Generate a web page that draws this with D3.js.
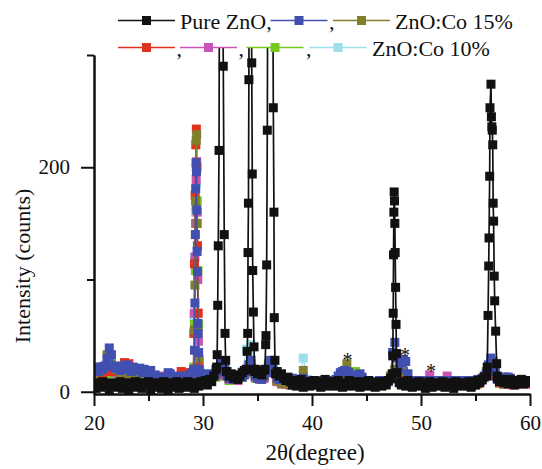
<!DOCTYPE html>
<html>
<head>
<meta charset="utf-8">
<script src="https://cdn.jsdelivr.net/npm/d3@7"></script>
<style>
  body { margin: 0; background: #fff; }
  svg { display: block; }
  svg text { font-family: "Liberation Serif", "Times New Roman", serif; }
</style>
</head>
<body>
<svg id="chart" width="542" height="469"></svg>
<script>
// ---- scan grid -------------------------------------------------------------
const scanStart = 20;       // 2θ of the first survey point
const fineStep = 0.2;       // survey step of the Pure ZnO and first Co scans
const coarseStep = 0.4;     // survey step of the remaining Co scans

// ---- Pure ZnO: survey counts (null = covered by the fine peak scans) -------
const pureZnO = [
  6,3,8,5,9,4,7,2,8,5,
  7,4,9,3,6,8,2,7,5,9,
  4,8,3,7,6,9,2,5,8,4,
  7,3,9,5,2,8,6,4,9,3,
  6,8,4,9,5,7,3,8,5,9,
  7,10,6,11,9,14,20,null,null,null,
  null,18,14,16,12,15,11,14,17,19,
  null,null,null,null,20,16,18,15,19,null,
  null,null,null,null,18,14,16,12,10,13,
  9,6,10,5,8,11,4,7,9,5,
  8,10,6,9,4,7,11,5,8,6,
  9,5,10,7,4,8,6,10,5,9,
  6,8,4,9,7,5,10,6,8,4,
  7,9,5,8,6,10,12,null,null,null,
  8,6,9,5,10,7,4,8,6,9,
  5,8,3,7,9,4,6,8,5,7,
  9,4,7,6,8,3,9,5,7,6,
  8,5,9,4,7,6,10,8,11,13,
  null,null,null,null,null,12,9,11,8,10,
  7,11,9,6,10,8,11,7,9,10,
  8
];
// fine scans across the ZnO reflections [2θ, counts]
const pureZnOPeak100 = [[31.26,22],[31.30,33],[31.35,77],[31.40,130],[31.47,215],[31.52,420],[31.60,640],[31.68,700],[31.75,560],[31.81,380],[31.86,290],[31.95,140],[32.02,52],[32.08,28],[32.14,18]];
const pureZnOPeak002 = [[33.98,20],[34.05,36],[34.10,52],[34.13,124],[34.17,168],[34.21,278],[34.26,520],[34.32,760],[34.38,600],[34.43,380],[34.47,293],[34.52,194],[34.56,108],[34.62,71],[34.68,40],[34.74,18]];
const pureZnOPeak101 = [[35.68,20],[35.75,42],[35.78,50],[35.84,113],[35.90,233],[35.96,450],[36.05,800],[36.15,900],[36.25,750],[36.35,500],[36.42,330],[36.45,253],[36.51,160],[36.54,66],[36.60,28],[36.66,16]];
const pureZnOPeak102 = [[47.36,16],[47.41,32],[47.45,70],[47.48,122],[47.51,160],[47.54,178],[47.57,170],[47.60,150],[47.63,124],[47.67,93],[47.71,60],[47.75,34],[47.80,17]];
const pureZnOPeak110 = [[56.04,14],[56.08,22],[56.15,68],[56.21,112],[56.24,137],[56.30,192],[56.33,253],[56.42,274],[56.46,245],[56.50,236],[56.54,233],[56.58,220],[56.62,168],[56.66,152],[56.72,103],[56.76,81],[56.85,54],[56.94,25],[56.99,14]];

// ---- Co doped scans --------------------------------------------------------
const coBlue = [
  19,21,18,22,20,23,30,39,33,22,
  21,23,19,22,20,24,21,18,22,20,
  19,21,17,20,18,16,19,14,15,13,
  11,13,10,12,17,16,11,13,12,14,
  13,11,14,12,15,17,null,null,null,16,
  15,14,16,13,15,14,16,18,24,27,
  20,14,12,13,11,13,12,14,13,15,
  18,24,28,20,14,12,13,11,14,17,
  22,28,25,17,12,11,12,11,12,12,
  11,12,9,8,10,11,12,9,8,10,
  9,8,10,9,8,10,9,8,10,9,
  10,11,14,17,18,19,18,17,13,10,
  12,15,16,13,9,8,10,9,8,9,
  8,10,9,8,10,9,12,35,44,30,
  20,26,29,27,16,10,9,8,10,9,
  8,10,9,8,9,10,9,8,9,10,
  10,8,9,8,10,9,8,10,9,8,
  9,10,9,8,10,9,11,10,11,14,
  16,24,30,27,18,11,10,12,13,13,
  13,12,9,10,9,10,11,10,10,10,
  10
];
const coBluePeak = [[29.16,20],[29.22,37],[29.26,79],[29.30,140],[29.33,181],[29.36,204],[29.40,196],[29.43,162],[29.46,125],[29.49,107],[29.52,61],[29.56,52],[29.60,35],[29.66,20]];

const co15 = [
  14,18,22,33,25,20,17,19,15,16,
  14,12,15,11,10,13,9,12,10,11,
  12,10,13,null,null,12,11,13,15,20,
  18,13,12,14,13,19,25,15,12,14,
  20,18,10,8,7,9,6,8,19,9,
  7,9,6,8,7,10,9,18,25,12,
  9,7,8,6,9,7,8,10,14,20,
  22,18,9,7,6,8,7,9,6,8,
  7,9,6,8,7,9,8,6,9,12,
  18,22,17,9,7,10,8,9,7,8,
  8
];
const co15Peak = [[29.12,18],[29.20,55],[29.26,95],[29.32,170],[29.38,224],[29.42,229],[29.47,150],[29.53,55],[29.60,30],[29.70,13]];

const coRed = [
  12,15,17,20,18,19,22,26,25,18,
  16,14,12,13,10,11,12,9,11,10,
  18,17,14,null,null,13,12,14,16,21,
  17,12,11,13,15,19,22,14,12,13,
  18,20,10,8,7,9,6,8,10,7,
  8,6,9,7,8,10,7,9,16,10,
  8,7,9,6,7,8,9,7,12,17,
  19,16,8,7,9,6,8,7,9,6,
  8,7,9,6,8,7,9,8,7,11,
  16,20,15,8,7,9,7,8,9,7,
  8
];
const coRedPeak = [[29.10,16],[29.16,52],[29.22,114],[29.28,175],[29.34,220],[29.39,234],[29.44,200],[29.50,130],[29.56,70],[29.64,28],[29.72,14]];

const coMagenta = [
  16,22,18,24,20,17,19,15,18,14,
  13,15,11,12,10,14,11,9,12,10,
  11,13,12,null,null,12,10,13,14,18,
  15,11,12,10,14,18,21,13,11,12,
  17,19,9,7,8,6,9,7,8,7,
  9,7,8,6,9,7,8,10,9,7,
  8,6,7,9,7,8,6,9,12,16,
  17,13,7,8,6,9,8,15,7,8,
  7,14,7,6,8,7,9,6,8,10,
  15,18,14,8,7,9,6,8,7,9,
  7
];
const coMagentaPeak = [[29.14,20],[29.20,70],[29.26,120],[29.32,150],[29.37,189],[29.42,205],[29.47,160],[29.52,100],[29.58,45],[29.66,18]];

const coGreen = [
  14,17,15,19,16,18,15,17,14,16,
  12,14,10,13,11,9,12,10,11,9,
  10,12,11,null,null,11,10,12,13,16,
  14,10,11,12,13,16,18,12,11,14,
  25,20,9,7,8,6,7,9,8,7,
  8,6,7,9,7,8,9,10,12,15,
  18,9,7,8,6,7,9,8,11,15,
  16,14,8,7,9,6,8,7,6,8,
  7,9,6,8,7,9,8,7,9,11,
  17,19,14,8,7,9,8,7,9,8,
  7
];
const coGreenPeak = [[29.16,22],[29.22,60],[29.30,108],[29.36,166],[29.42,198],[29.48,170],[29.54,108],[29.60,60],[29.68,20]];

const co10 = [
  15,18,16,20,17,19,16,18,15,17,
  13,15,12,14,11,10,12,11,10,12,
  11,13,12,null,null,12,11,13,15,19,
  16,12,11,13,18,38,42,20,12,14,
  20,22,10,8,7,9,7,8,30,11,
  8,7,9,6,8,7,9,8,10,9,
  7,8,6,9,7,8,7,9,12,17,
  19,16,8,7,9,7,8,6,7,9,
  8,7,9,6,8,7,9,8,7,11,
  16,21,15,8,7,9,8,7,8,9,
  8
];
const co10Peak = [[29.12,18],[29.18,67],[29.24,120],[29.30,160],[29.36,200],[29.41,185],[29.46,130],[29.52,70],[29.60,30],[29.68,15]];

// ---- legend and axis text --------------------------------------------------
const legendLabels = ["Pure ZnO,", ",", "ZnO:Co 15%", ",", ",", ",", "ZnO:Co 10%"];
const seriesColors = ["#111111", "#4150b0", "#807f2c", "#e0321f", "#c954b6", "#77c81f", "#9cdfe9"];
const xMajorTicks = [20, 30, 40, 50, 60];
const xMinorTicks = [25, 35, 45, 55];
const yMajorTicks = [0, 200];
const yMinorTicks = [100, 300];
const asteriskMarks = [[43.26, 30.5], [48.53, 35.4], [50.92, 20.3]];

const serif = "Liberation Serif";

// every text element gets the serif face both as attribute and inline style
function serifText(sel) {
  return sel.attr("font-family", serif).style("font-family", `"${serif}"`);
}

// ---- assemble point lists ---------------------------------------------------
function buildScan(survey, step, ...fine) {
  const pts = [];
  survey.forEach((v, i) => {
    if (v !== null) pts.push([+(scanStart + i * step).toFixed(2), v]);
  });
  fine.forEach(list => list.forEach(p => pts.push(p)));
  pts.sort((a, b) => a[0] - b[0]);
  return pts;
}

const scans = [
  buildScan(pureZnO, fineStep, pureZnOPeak100, pureZnOPeak002, pureZnOPeak101, pureZnOPeak102, pureZnOPeak110),
  buildScan(coBlue, fineStep, coBluePeak),
  buildScan(co15, coarseStep, co15Peak),
  buildScan(coRed, coarseStep, coRedPeak),
  buildScan(coMagenta, coarseStep, coMagentaPeak),
  buildScan(coGreen, coarseStep, coGreenPeak),
  buildScan(co10, coarseStep, co10Peak)
];

// ---- layout ---------------------------------------------------------------
const svg = d3.select("#chart");
const plot = { left: 94, right: 530, top: 55, bottom: 394 };
const x = d3.scaleLinear().domain([20, 60]).range([plot.left, plot.right]);
const y = d3.scaleLinear().domain([-2, 300]).range([plot.bottom, plot.top]);

svg.append("defs").append("clipPath").attr("id", "plotClip")
  .append("rect")
  .attr("x", plot.left).attr("y", 48)
  .attr("width", plot.right - plot.left).attr("height", plot.bottom - 48 + 1);

const dataLayer = svg.append("g").attr("clip-path", "url(#plotClip)");
const line = d3.line().x(d => x(d[0])).y(d => y(d[1]));
const markerSize = 9;

// draw the last legend entry first so Pure ZnO ends up on top
d3.range(scans.length - 1, -1, -1).forEach(k => {
  const g = dataLayer.append("g");
  g.append("path")
    .datum(scans[k])
    .attr("fill", "none")
    .attr("stroke", seriesColors[k])
    .attr("stroke-width", k === 0 ? 1.7 : 1.3)
    .attr("d", line);
  g.selectAll("rect")
    .data(scans[k])
    .join("rect")
    .attr("x", d => x(d[0]) - markerSize / 2)
    .attr("y", d => y(d[1]) - markerSize / 2)
    .attr("width", markerSize)
    .attr("height", markerSize)
    .attr("fill", seriesColors[k]);
});

// asterisks above the secondary-phase reflections
svg.append("g").selectAll("text")
  .data(asteriskMarks)
  .join("text")
  .attr("x", d => x(d[0]))
  .attr("y", d => y(d[1]) + 9.5)
  .attr("text-anchor", "middle")
  .attr("font-size", 20)
  .attr("fill", "#111")
  .call(serifText)
  .text("*");

// ---- axes -----------------------------------------------------------------
function styleAxis(g) {
  g.attr("font-family", serif);
  g.selectAll("path.domain").attr("stroke", "#111").attr("stroke-width", 2);
  g.selectAll(".tick line").attr("stroke", "#111").attr("stroke-width", 2);
  g.selectAll(".tick text").attr("font-size", 21).attr("fill", "#111").call(serifText);
}

svg.append("g")
  .attr("transform", `translate(0,${plot.bottom})`)
  .call(d3.axisBottom(x).tickValues(xMinorTicks).tickSize(7).tickSizeOuter(0).tickFormat(""))
  .call(styleAxis);
svg.append("g")
  .attr("transform", `translate(0,${plot.bottom})`)
  .call(d3.axisBottom(x).tickValues(xMajorTicks).tickSize(12).tickSizeOuter(0).tickPadding(9).tickFormat(d3.format("d")))
  .call(styleAxis);

svg.append("g")
  .attr("transform", `translate(${plot.left},0)`)
  .call(d3.axisLeft(y).tickValues(yMinorTicks).tickSize(7).tickSizeOuter(0).tickFormat(""))
  .call(styleAxis);
svg.append("g")
  .attr("transform", `translate(${plot.left},0)`)
  .call(d3.axisLeft(y).tickValues(yMajorTicks).tickSize(13).tickSizeOuter(0).tickPadding(11).tickFormat(d3.format("d")))
  .call(styleAxis);

svg.append("text")
  .attr("transform", "translate(22,266) rotate(-90)")
  .attr("text-anchor", "middle")
  .attr("dominant-baseline", "central")
  .attr("font-size", 22)
  .attr("fill", "#111")
  .call(serifText)
  .text("Intensity (counts)");

svg.append("text")
  .attr("x", 315).attr("y", 460)
  .attr("text-anchor", "middle")
  .attr("font-size", 23)
  .attr("fill", "#111")
  .call(serifText)
  .text("2θ(degree)");

// ---- legend ---------------------------------------------------------------
// each entry: swatch start and label start, two rows
const legendRows = [
  [{ k: 0, sx: 118, tx: 180 }, { k: 1, sx: 270.5, tx: 329 }, { k: 2, sx: 333, tx: 395 }],
  [{ k: 3, sx: 118, tx: 176.5 }, { k: 4, sx: 180, tx: 238.5 }, { k: 5, sx: 246.5, tx: 306 }, { k: 6, sx: 309.5, tx: 372 }]
];
const legendRowY = [20.5, 47.5];
const swatchLen = 57;
const legend = svg.append("g");
legendRows.forEach((row, r) => {
  const yy = legendRowY[r];
  row.forEach(({ k, sx, tx }) => {
    legend.append("line")
      .attr("x1", sx).attr("x2", sx + swatchLen)
      .attr("y1", yy).attr("y2", yy)
      .attr("stroke", seriesColors[k]).attr("stroke-width", 1.6);
    legend.append("rect")
      .attr("x", sx + swatchLen / 2 - markerSize / 2)
      .attr("y", yy - markerSize / 2)
      .attr("width", markerSize).attr("height", markerSize)
      .attr("fill", seriesColors[k]);
    legend.append("text")
      .attr("x", tx).attr("y", yy + 8)
      .attr("font-size", 22)
      .attr("fill", "#111")
      .call(serifText)
      .text(legendLabels[k]);
  });
});
</script>
</body>
</html>
